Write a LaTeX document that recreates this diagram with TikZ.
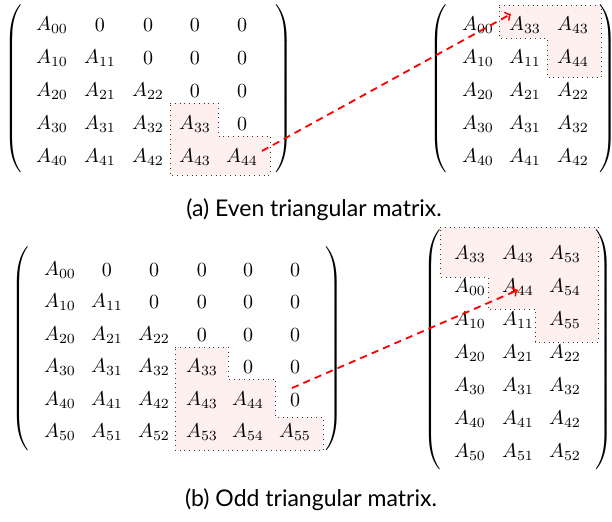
\documentclass[tikz,border=0pt]{standalone}
\usepackage{fontspec}
\newfontfamily\capfont{Lato}
\begin{document}
\begin{tikzpicture}[x=0.5pt,y=-0.5pt,
  cell/.style={inner sep=0pt},
  hl/.style={draw=black!80,dotted,fill=red!6},
  movearrow/.style={red,line width=0.9pt,dash pattern=on 3.6pt off 2.6pt,->},
  capt/.style={font=\capfont\fontsize{11.5}{13}\selectfont,inner sep=0pt}]
\useasboundingbox (0,0) rectangle (612,521);
\begin{scope}
\clip (0,0) rectangle (612,521);
% highlighted regions
\draw[hl] (170,103)--(218,103)--(218,136)--(270,136)--(270,175)--(170,175)--cycle;
\draw[hl] (499,5)--(601,5)--(601,77)--(547,77)--(547,38)--(499,38)--cycle;
\draw[hl] (175,347)--(228,347)--(228,379)--(275,379)--(275,417)--(323,417)--(323,450)--(175,450)--cycle;
\draw[hl] (440,227)--(598,227)--(598,342)--(535,342)--(535,309)--(488,309)--(488,277)--(440,277)--cycle;

% (a) left matrix
\foreach \r/\y in {0/25,1/58,2/91,3/124,4/157}{
  \foreach \c/\x in {0/52,1/100,2/148,3/195,4/242}{
    \node[cell] (TL-\r-\c) at (\x,\y) {$\ifnum\c>\r\relax 0\else A_{\r\c}\fi$};
  }
}
\node[cell] (TLl) at (14,91) {$\left(\vrule height 42pt depth 42pt width 0pt\right.$};
\node[cell] (TLr) at (283,91) {$\left.\vrule height 42pt depth 42pt width 0pt\right)$};

% (a) right matrix
\node[cell] (TR-0-0) at (478,25) {$A_{00}$};
\node[cell] (TR-0-1) at (525,25) {$A_{33}$};
\node[cell] (TR-0-2) at (573,25) {$A_{43}$};
\node[cell] (TR-1-0) at (478,58) {$A_{10}$};
\node[cell] (TR-1-1) at (525,58) {$A_{11}$};
\node[cell] (TR-1-2) at (573,58) {$A_{44}$};
\foreach \r/\y in {2/91,3/124,4/157}{
  \foreach \c/\x in {0/478,1/525,2/573}{
    \node[cell] (TR-\r-\c) at (\x,\y) {$A_{\r\c}$};
  }
}
\node[cell] (TRl) at (439,91) {$\left(\vrule height 42pt depth 42pt width 0pt\right.$};
\node[cell] (TRr) at (607,91) {$\left.\vrule height 42pt depth 42pt width 0pt\right)$};

% (b) left matrix
\foreach \r/\y in {0/270,1/302,2/335,3/367,4/400,5/432}{
  \foreach \c/\x in {0/60,1/107,2/154,3/202,4/248,5/295}{
    \node[cell] (BL-\r-\c) at (\x,\y) {$\ifnum\c>\r\relax 0\else A_{\r\c}\fi$};
  }
}
\node[cell] (BLl) at (21,350) {$\left(\vrule height 50pt depth 50pt width 0pt\right.$};
\node[cell] (BLr) at (333,350) {$\left.\vrule height 50pt depth 50pt width 0pt\right)$};

% (b) right matrix
\node[cell] (BR-0-0) at (470,254) {$A_{33}$};
\node[cell] (BR-0-1) at (518,254) {$A_{43}$};
\node[cell] (BR-0-2) at (565,254) {$A_{53}$};
\node[cell] (BR-1-0) at (470,287) {$A_{00}$};
\node[cell] (BR-1-1) at (518,287) {$A_{44}$};
\node[cell] (BR-1-2) at (565,287) {$A_{54}$};
\node[cell] (BR-2-0) at (470,320) {$A_{10}$};
\node[cell] (BR-2-1) at (518,320) {$A_{11}$};
\node[cell] (BR-2-2) at (565,320) {$A_{55}$};
\foreach \r/\y in {2/353,3/386,4/419,5/452}{
  \foreach \c/\x in {0/470,1/518,2/565}{
    \node[cell] (BR-\r-\c-x) at (\x,\y) {$A_{\r\c}$};
  }
}
\node[cell] (BRl) at (433,350) {$\left(\vrule height 58pt depth 58pt width 0pt\right.$};
\node[cell] (BRr) at (603,350) {$\left.\vrule height 58pt depth 58pt width 0pt\right)$};

% arrows
\coordinate (a1s) at (262,151);
\coordinate (a1e) at (511,14);
\draw[movearrow] (a1s) -- (a1e);
\coordinate (a2s) at (292,388);
\coordinate (a2e) at (518,290);
\draw[movearrow] (a2s) -- (a2e);
\end{scope}

% captions
\node[capt] (capa) at (314,210) {(a) Even triangular matrix.};
\node[capt] (capb) at (311,500) {(b) Odd triangular matrix.};
\end{tikzpicture}
\end{document}
